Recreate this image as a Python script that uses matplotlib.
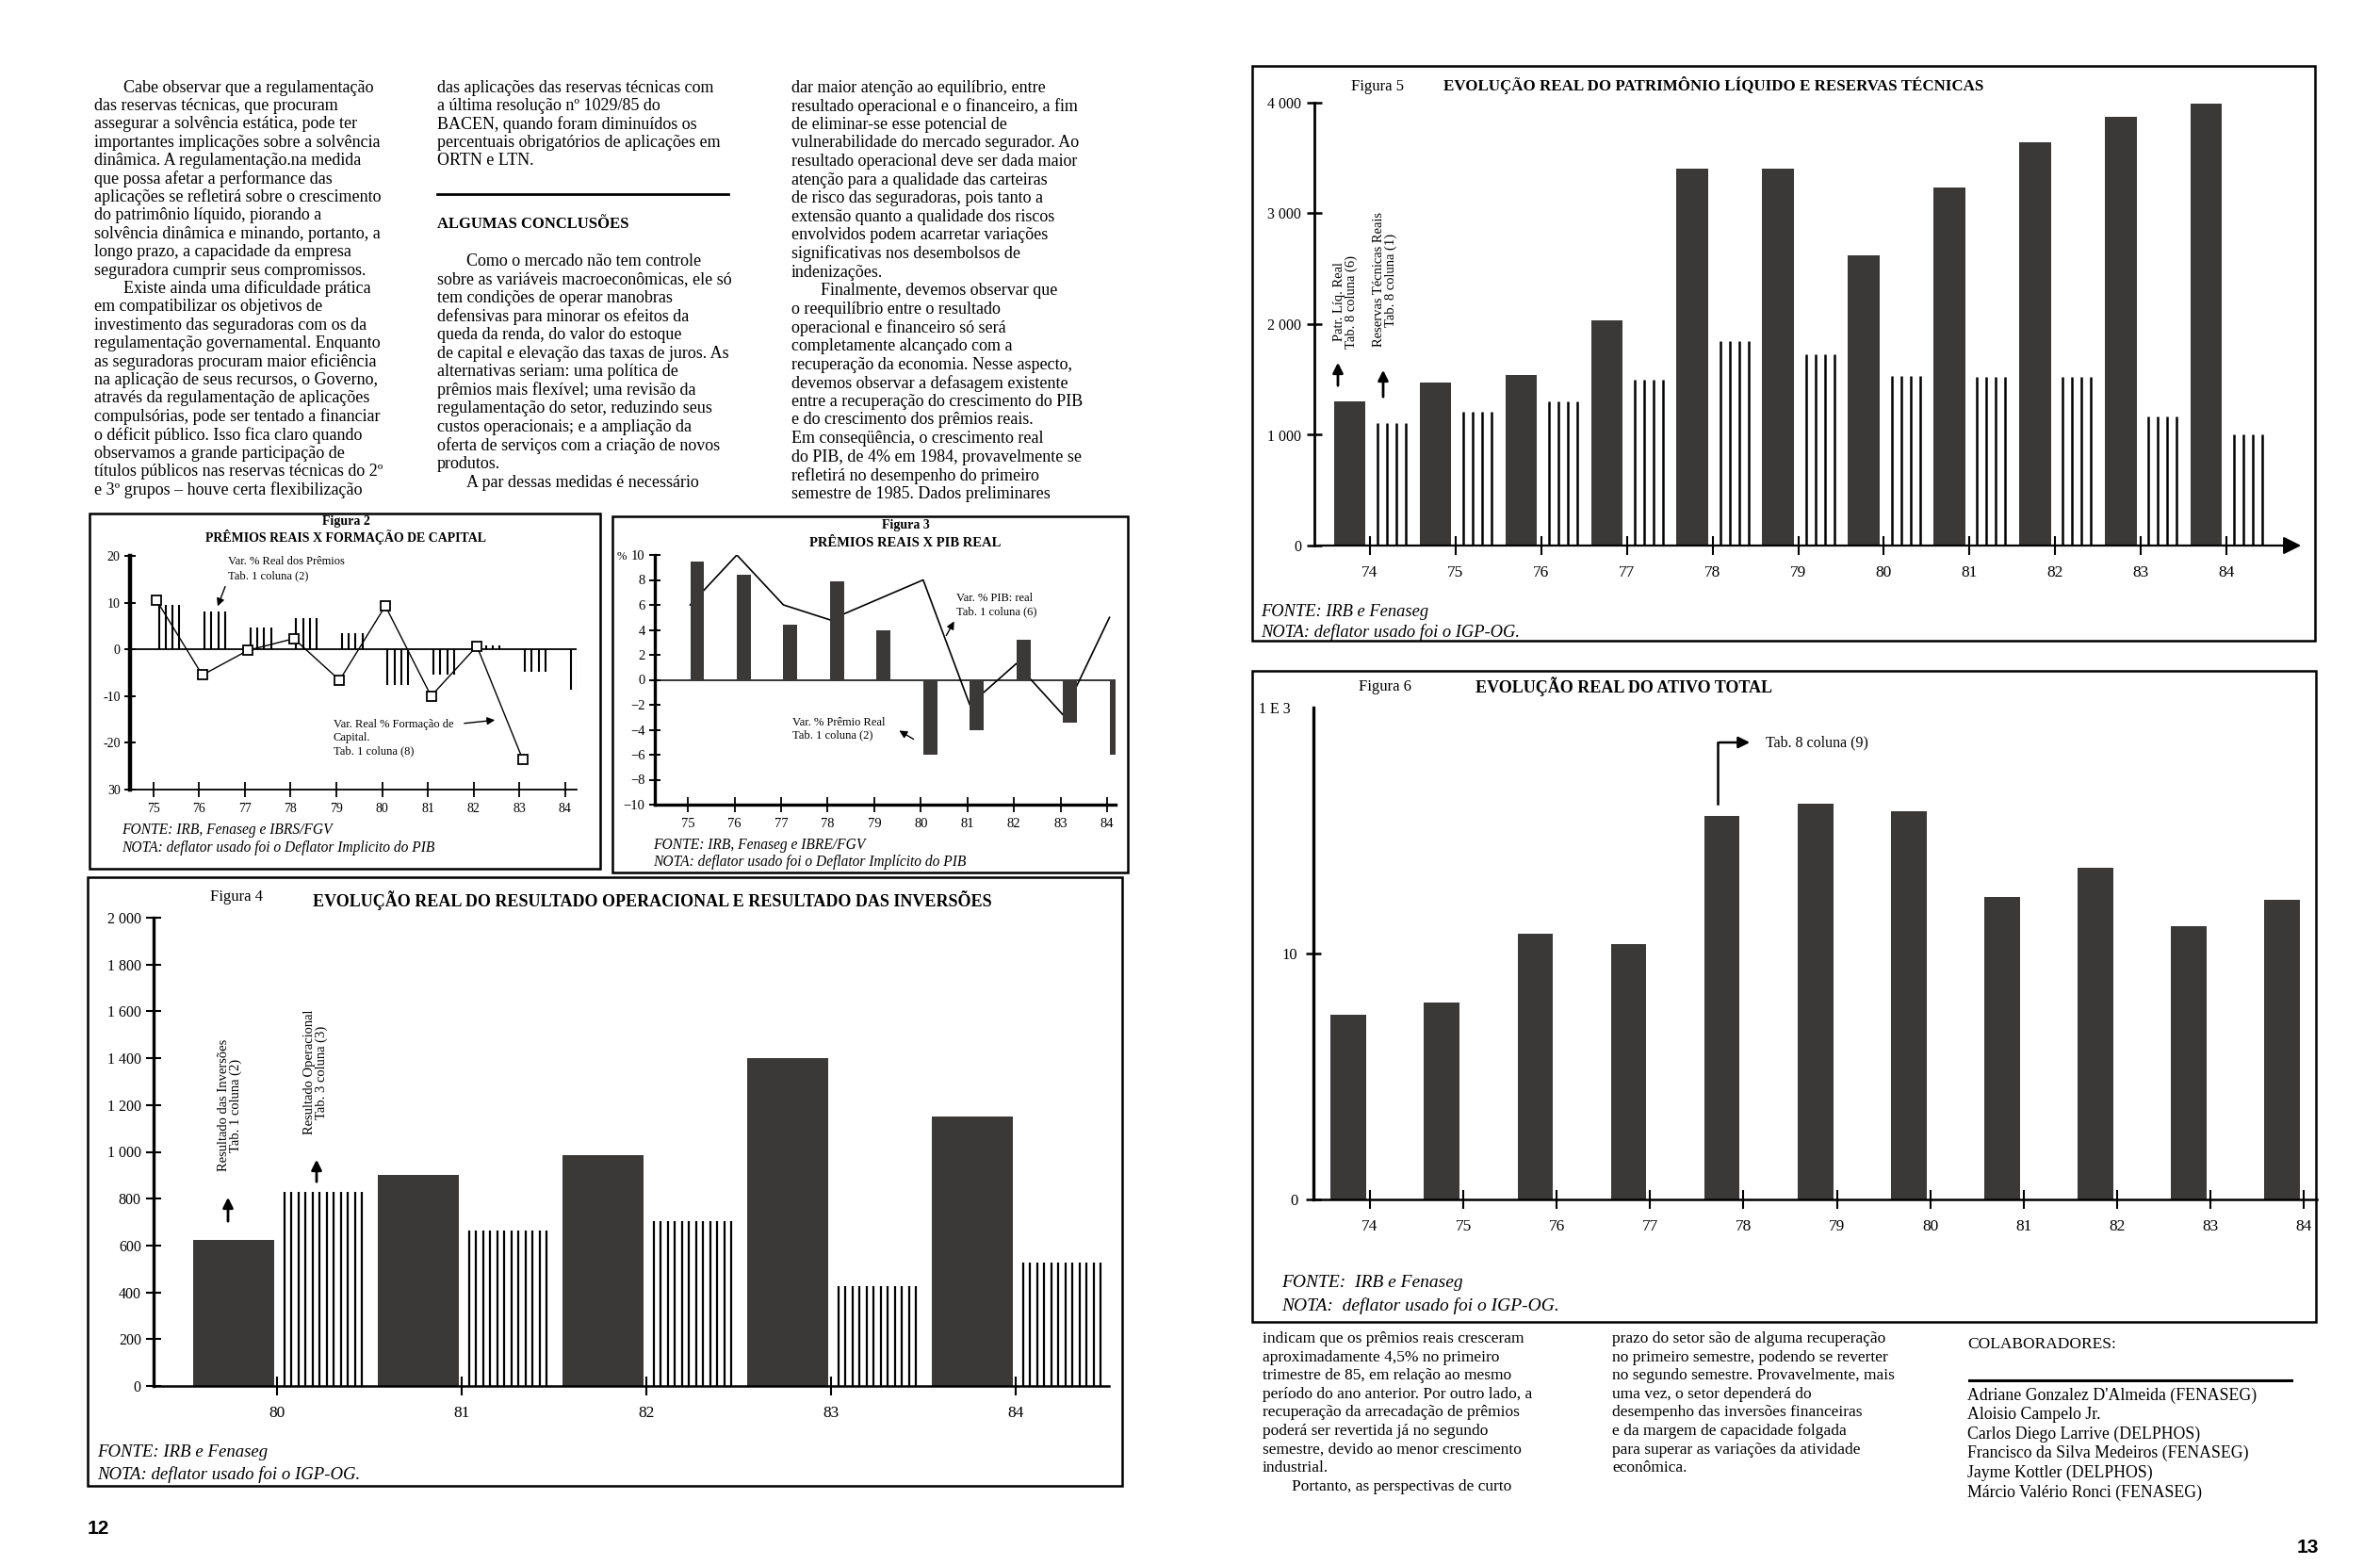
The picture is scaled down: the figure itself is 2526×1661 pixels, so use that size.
import numpy as np
import matplotlib
matplotlib.use("Agg")
import matplotlib.pyplot as plt
from matplotlib.patches import Rectangle
from matplotlib.lines import Line2D

W, H = 2526, 1661
ESCURO = '#3b3838'

# ---------------- dados das figuras ----------------
anos_f2 = [75, 76, 77, 78, 79, 80, 81, 82, 83, 84]
premios_f2 = [9.5, 8.2, 4.6, 6.6, 3.5, -7.7, -5.4, 0.8, -4.7, -8.7]
anos_cap_f2 = [75, 76, 77, 78, 79, 80, 81, 82, 83]
capital_f2 = [10.5, -5.5, -0.2, 2.3, -6.6, 9.3, -10.0, 0.7, -23.5]

anos_f3 = [75, 76, 77, 78, 79, 80, 81, 82, 83, 84]
premios_f3 = [9.5, 8.4, 4.4, 7.9, 4.0, -6.0, -4.0, 3.2, -3.4, -6.0]
pib_f3 = [6.0, 10.0, 6.0, 4.8, 6.4, 8.0, -2.0, 1.3, -2.8, 5.0]

anos_f4 = [80, 81, 82, 83, 84]
inversoes_f4 = [625, 900, 985, 1400, 1150]
operacional_f4 = [830, 665, 705, 425, 528]

anos_f5 = [74, 75, 76, 77, 78, 79, 80, 81, 82, 83, 84]
patrimonio_f5 = [1300, 1470, 1540, 2030, 3400, 3400, 2620, 3230, 3640, 3870, 3990]
reservas_f5 = [1110, 1210, 1300, 1500, 1850, 1730, 1530, 1525, 1525, 1170, 1000]

anos_f6 = [74, 75, 76, 77, 78, 79, 80, 81, 82, 83, 84]
ativo_f6 = [7.5, 8.0, 10.8, 10.4, 15.6, 16.1, 15.8, 12.3, 13.5, 11.1, 12.2]

# ---------------- textos ----------------
col1 = ["Cabe observar que a regulamentação",
        "das reservas técnicas, que procuram",
        "assegurar a solvência estática, pode ter",
        "importantes implicações sobre a solvência",
        "dinâmica. A regulamentação.na medida",
        "que possa afetar a performance das",
        "aplicações se refletirá sobre o crescimento",
        "do patrimônio líquido, piorando a",
        "solvência dinâmica e minando, portanto, a",
        "longo prazo, a capacidade da empresa",
        "seguradora cumprir seus compromissos.",
        "Existe ainda uma dificuldade prática",
        "em compatibilizar os objetivos de",
        "investimento das seguradoras com os da",
        "regulamentação governamental. Enquanto",
        "as seguradoras procuram maior eficiência",
        "na aplicação de seus recursos, o Governo,",
        "através da regulamentação de aplicações",
        "compulsórias, pode ser tentado a financiar",
        "o déficit público. Isso fica claro quando",
        "observamos a grande participação de",
        "títulos públicos nas reservas técnicas do 2º",
        "e 3º grupos – houve certa flexibilização"]
col2a = ["das aplicações das reservas técnicas com",
         "a última resolução nº 1029/85 do",
         "BACEN, quando foram diminuídos os",
         "percentuais obrigatórios de aplicações em",
         "ORTN e LTN."]
col2b = ["Como o mercado não tem controle",
         "sobre as variáveis macroeconômicas, ele só",
         "tem condições de operar manobras",
         "defensivas para minorar os efeitos da",
         "queda da renda, do valor do estoque",
         "de capital e elevação das taxas de juros. As",
         "alternativas seriam: uma política de",
         "prêmios mais flexível; uma revisão da",
         "regulamentação do setor, reduzindo seus",
         "custos operacionais; e a ampliação da",
         "oferta de serviços com a criação de novos",
         "produtos.",
         "A par dessas medidas é necessário"]
col3 = ["dar maior atenção ao equilíbrio, entre",
        "resultado operacional e o financeiro, a fim",
        "de eliminar-se esse potencial de",
        "vulnerabilidade do mercado segurador. Ao",
        "resultado operacional deve ser dada maior",
        "atenção para a qualidade das carteiras",
        "de risco das seguradoras, pois tanto a",
        "extensão quanto a qualidade dos riscos",
        "envolvidos podem acarretar variações",
        "significativas nos desembolsos de",
        "indenizações.",
        "Finalmente, devemos observar que",
        "o reequilíbrio entre o resultado",
        "operacional e financeiro só será",
        "completamente alcançado com a",
        "recuperação da economia. Nesse aspecto,",
        "devemos observar a defasagem existente",
        "entre a recuperação do crescimento do PIB",
        "e do crescimento dos prêmios reais.",
        "Em conseqüência, o crescimento real",
        "do PIB, de 4% em 1984, provavelmente se",
        "refletirá no desempenho do primeiro",
        "semestre de 1985. Dados preliminares"]
col4 = ["indicam que os prêmios reais cresceram",
        "aproximadamente 4,5% no primeiro",
        "trimestre de 85, em relação ao mesmo",
        "período do ano anterior. Por outro lado, a",
        "recuperação da arrecadação de prêmios",
        "poderá ser revertida já no segundo",
        "semestre, devido ao menor crescimento",
        "industrial.",
        "Portanto, as perspectivas de curto"]
col5 = ["prazo do setor são de alguma recuperação",
        "no primeiro semestre, podendo se reverter",
        "no segundo semestre. Provavelmente, mais",
        "uma vez, o setor dependerá do",
        "desempenho das inversões financeiras",
        "e da margem de capacidade folgada",
        "para superar as variações da atividade",
        "econômica."]
colaboradores = ["Adriane Gonzalez D'Almeida (FENASEG)",
                 "Aloisio Campelo Jr.",
                 "Carlos Diego Larrive (DELPHOS)",
                 "Francisco da Silva Medeiros (FENASEG)",
                 "Jayme Kottler (DELPHOS)",
                 "Márcio Valério Ronci (FENASEG)"]

plt.rcParams['font.family'] = ['Liberation Serif', 'DejaVu Serif']
fig = plt.figure(figsize=(W / 100, H / 100), dpi=100)
fig.patch.set_facecolor('white')


def fx(x):
    return x / W


def fy(y):
    return 1 - y / H


def texto(x, y, s, **kw):
    kw.setdefault('va', 'center')
    fig.text(fx(x), fy(y), s, **kw)


def linhas(lst, x, y0, passo, recuo=(), dx=31, **kw):
    for i, s in enumerate(lst):
        texto(x + (dx if i in recuo else 0), y0 + i * passo, s, **kw)


def caixa(x0, y0, x1, y1, lw=1.8):
    fig.add_artist(Rectangle((fx(x0), fy(y1)), (x1 - x0) / W, (y1 - y0) / H,
                             transform=fig.transFigure, fill=False, lw=lw, ec='k'))


def traco(x0, x1, y, lw=1.8):
    fig.add_artist(Line2D([fx(x0), fx(x1)], [fy(y), fy(y)],
                          transform=fig.transFigure, color='k', lw=lw))


def seta(x0, y0, x1, y1, lw=1.0, ms=12):
    fig.add_artist(matplotlib.patches.FancyArrowPatch(
        (fx(x0), fy(y0)), (fx(x1), fy(y1)), transform=fig.transFigure,
        arrowstyle='-|>', mutation_scale=ms, lw=lw, color='k'))


def eixos(x0, x1, y_top, y_bot, xlim, ylim):
    ax = fig.add_axes([fx(x0), fy(y_bot), (x1 - x0) / W, (y_bot - y_top) / H])
    ax.set_xlim(*xlim)
    ax.set_ylim(*ylim)
    ax.patch.set_visible(False)
    ax.spines['top'].set_visible(False)
    ax.spines['right'].set_visible(False)
    return ax


def rotulos_y(vals):
    return [str(v) if v >= 0 else '−' + str(abs(v)) for v in vals]


# ---------------- texto corrido ----------------
corpo = dict(fontsize=13)
linhas(col1, 100, 93, 19.4, recuo=(0, 11), **corpo)
linhas(col2a, 464, 93, 19.4, **corpo)
traco(464, 773, 206, lw=2.0)
texto(464, 238, "ALGUMAS CONCLUSÕES", fontsize=12, fontweight='bold')
linhas(col2b, 464, 277, 19.6, recuo=(0, 12), **corpo)
linhas(col3, 840, 93, 19.6, recuo=(11,), **corpo)

linhas(col4, 1340, 1421, 19.6, recuo=(8,), fontsize=12.5)
linhas(col5, 1711, 1421, 19.6, fontsize=12.5)
texto(2088, 1427, "COLABORADORES:", fontsize=12.5)
traco(2090, 2432, 1465, lw=2.2)
linhas(colaboradores, 2088, 1481, 20.6, fontsize=12.8)

texto(93, 1622, "12", fontsize=15, fontweight='bold', family='Liberation Sans')
texto(2438, 1643, "13", fontsize=15, fontweight='bold', family='Liberation Sans')

# ---------------- Figura 2 ----------------
caixa(95, 545, 637, 922)
texto(367, 553, "Figura 2", fontsize=10, fontweight='bold', ha='center')
texto(367, 570, "PRÊMIOS REAIS X FORMAÇÃO DE CAPITAL", fontsize=10,
      fontweight='bold', ha='center')
ax2 = eixos(138, 612, 590, 838, (74.49, 84.25), (-30, 20))
ax2.spines['left'].set_linewidth(3.2)
ax2.spines['bottom'].set_linewidth(1.3)
ax2.axhline(0, color='k', lw=1.3)
desl = np.array([0.12, 0.27, 0.42, 0.57])
xs2 = (np.array(anos_f2)[:, None] + desl).ravel()
ax2.vlines(xs2, 0, np.repeat(premios_f2, len(desl)), color='k', lw=1.5)
ax2.plot(np.array(anos_cap_f2) + 0.07, capital_f2, color='k', lw=1.0,
         marker='s', ms=7, mfc='white', mec='k', mew=1.3, zorder=4, clip_on=False)
ax2.set_yticks([20, 10, 0, -10, -20, -30])
ax2.set_yticklabels(['20', '10', '0', '-10', '-20', '30'])
ax2.set_xticks(anos_f2)
ax2.set_xticklabels([str(a) for a in anos_f2])
ax2.tick_params(axis='y', direction='inout', length=9, width=1.4, labelsize=10, pad=3)
ax2.tick_params(axis='x', direction='inout', length=12, width=1.3, labelsize=10, pad=4)
texto(242, 596, "Var. % Real dos Prêmios", fontsize=9)
texto(242, 611, "Tab. 1 coluna (2)", fontsize=9)
seta(240, 620, 230, 646)
texto(354, 769, "Var. Real % Formação de", fontsize=9)
texto(354, 783, "Capital.", fontsize=9)
texto(354, 797, "Tab. 1 coluna (8)", fontsize=9)
seta(490, 768, 528, 764)
texto(129, 881, "FONTE: IRB, Fenaseg e IBRS/FGV", fontsize=11.2, style='italic')
texto(129, 900, "NOTA: deflator usado foi o Deflator Implicito do PIB", fontsize=11.2,
      style='italic')

# ---------------- Figura 3 ----------------
caixa(650, 548, 1197, 926)
texto(961, 558, "Figura 3", fontsize=10, fontweight='bold', ha='center')
texto(961, 576, "PRÊMIOS REAIS X PIB REAL", fontsize=10.5, fontweight='bold', ha='center')
ax3 = eixos(695, 1184, 589, 854, (74.29, 84.18), (-10, 10))
ax3.spines['left'].set_linewidth(2.4)
ax3.spines['bottom'].set_linewidth(2.4)
ax3.axhline(0, color='k', lw=1.1)
ax3.plot(np.array(anos_f3) + 0.05, pib_f3, color='k', lw=1.2, zorder=2)
ax3.bar(np.array(anos_f3) + 0.2, premios_f3, width=0.3, color=ESCURO, zorder=3)
yv3 = list(range(10, -11, -2))
ax3.set_yticks(yv3)
ax3.set_yticklabels(rotulos_y(yv3))
ax3.set_xticks(anos_f3)
ax3.set_xticklabels([str(a) for a in anos_f3])
ax3.tick_params(axis='y', direction='inout', length=9, width=1.4, labelsize=10.5, pad=3)
ax3.tick_params(axis='x', direction='inout', length=12, width=1.3, labelsize=10.5, pad=4)
texto(655, 591, "%", fontsize=9)
texto(1015, 635, "Var. % PIB: real", fontsize=9)
texto(1015, 649, "Tab. 1 coluna (6)", fontsize=9)
seta(1003, 677, 1014, 657)
texto(841, 767, "Var. % Prêmio Real", fontsize=9)
texto(841, 780, "Tab. 1 coluna (2)", fontsize=9)
seta(972, 786, 952, 774)
texto(693, 897, "FONTE: IRB, Fenaseg e IBRE/FGV", fontsize=11.2, style='italic')
texto(693, 915, "NOTA: deflator usado foi o Deflator Implícito do PIB", fontsize=11.2,
      style='italic')

# ---------------- Figura 4 ----------------
caixa(93, 931, 1191, 1577)
texto(251, 952, "Figura 4", fontsize=12, ha='center')
texto(692, 956, "EVOLUÇÃO REAL DO RESULTADO OPERACIONAL E RESULTADO DAS INVERSÕES",
      fontsize=13, fontweight='bold', ha='center')
ax4 = eixos(163, 1177, 974, 1471, (79.332, 84.505), (0, 2000))
ax4.spines['left'].set_linewidth(2.4)
ax4.spines['bottom'].set_linewidth(1.8)
ax4.bar(np.array(anos_f4) - 0.235, inversoes_f4, width=0.44, color=ESCURO, zorder=2)
desl4 = np.linspace(0.04, 0.46, 12)
xs4 = (np.array(anos_f4)[:, None] + desl4).ravel()
ax4.vlines(xs4, 0, np.repeat(operacional_f4, len(desl4)), color='k', lw=1.6)
yv4 = list(range(0, 2001, 200))
ax4.set_yticks(yv4)
ax4.set_yticklabels(['{:,}'.format(v).replace(',', ' ') for v in yv4])
ax4.set_xticks(anos_f4)
ax4.set_xticklabels([str(a) for a in anos_f4])
ax4.tick_params(axis='y', direction='inout', length=11, width=1.5, labelsize=11.5, pad=4)
ax4.tick_params(axis='x', direction='inout', length=14, width=1.5, labelsize=12.5, pad=8)
texto(244, 1173, "Resultado das Inversões\nTab. 1 coluna (2)", fontsize=10.5,
      rotation=90, ha='center', linespacing=1.0)
texto(335, 1138, "Resultado Operacional\nTab. 3 coluna (3)", fontsize=10.5,
      rotation=90, ha='center', linespacing=1.0)
seta(242, 1299, 242, 1268, lw=2, ms=16)
seta(336, 1257, 336, 1228, lw=2, ms=16)
texto(103, 1542, "FONTE: IRB e Fenaseg", fontsize=13.5, style='italic')
texto(103, 1565, "NOTA: deflator usado foi o IGP-OG.", fontsize=13.5, style='italic')

# ---------------- Figura 5 ----------------
caixa(1329, 70, 2457, 680)
texto(1462, 92, "Figura 5", fontsize=12, ha='center')
texto(1819, 91, "EVOLUÇÃO REAL DO PATRIMÔNIO LÍQUIDO E RESERVAS TÉCNICAS",
      fontsize=12.2, fontweight='bold', ha='center')
ax5 = eixos(1395, 2445, 109, 579, (73.351, 84.902), (0, 4000))
ax5.spines['left'].set_linewidth(2.0)
ax5.spines['bottom'].set_visible(False)
ax5.annotate('', xy=(84.902, 0), xytext=(73.351, 0), xycoords='data',
             arrowprops=dict(arrowstyle='-|>', color='k', lw=1.6, mutation_scale=28),
             annotation_clip=False)
ax5.bar(np.array(anos_f5) - 0.235, patrimonio_f5, width=0.37, color=ESCURO, zorder=2)
desl5 = np.array([0.09, 0.2, 0.31, 0.42])
xs5 = (np.array(anos_f5)[:, None] + desl5).ravel()
ax5.vlines(xs5, 0, np.repeat(reservas_f5, len(desl5)), color='k', lw=1.8)
yv5 = [0, 1000, 2000, 3000, 4000]
ax5.set_yticks(yv5)
ax5.set_yticklabels(['{:,}'.format(v).replace(',', ' ') for v in yv5])
ax5.set_xticks(anos_f5)
ax5.set_xticklabels([str(a) for a in anos_f5])
ax5.tick_params(axis='y', direction='inout', length=12, width=1.8, labelsize=11.5, pad=4)
ax5.tick_params(axis='x', direction='inout', length=14, width=1.5, labelsize=12.5, pad=8)
texto(1428, 320, "Patr. Líq. Real\nTab. 8 coluna (6)", fontsize=10.5,
      rotation=90, ha='center', linespacing=1.0)
texto(1470, 297, "Reservas Técnicas Reais\nTab. 8 coluna (1)", fontsize=10.5,
      rotation=90, ha='center', linespacing=1.0)
seta(1420, 412, 1420, 382, lw=2, ms=16)
seta(1468, 424, 1468, 390, lw=2, ms=16)
texto(1338, 649, "FONTE: IRB e Fenaseg", fontsize=13.3, style='italic')
texto(1338, 671, "NOTA: deflator usado foi o IGP-OG.", fontsize=13.3, style='italic')

# ---------------- Figura 6 ----------------
caixa(1329, 712, 2458, 1403)
texto(1470, 729, "Figura 6", fontsize=12, ha='center')
texto(1723, 729, "EVOLUÇÃO REAL DO ATIVO TOTAL", fontsize=13, fontweight='bold',
      ha='center')
texto(1336, 753, "1 E 3", fontsize=11.5)
ax6 = eixos(1394, 2459, 751, 1273, (73.395, 84.14), (0, 20))
ax6.spines['left'].set_linewidth(2.4)
ax6.spines['bottom'].set_linewidth(1.8)
ax6.bar(np.array(anos_f6) - 0.23, ativo_f6, width=0.38, color=ESCURO, zorder=2)
ax6.set_yticks([0, 10])
ax6.set_yticklabels(['0', '10'])
ax6.set_xticks(anos_f6)
ax6.set_xticklabels([str(a) for a in anos_f6])
ax6.tick_params(axis='y', direction='inout', length=12, width=1.8, labelsize=12, pad=6)
ax6.tick_params(axis='x', direction='inout', length=14, width=1.5, labelsize=12.5, pad=8)
fig.add_artist(Line2D([fx(1823), fx(1823)], [fy(853), fy(788)],
                      transform=fig.transFigure, color='k', lw=1.8))
seta(1822, 788, 1860, 788, lw=1.8, ms=18)
texto(1874, 788, "Tab. 8 coluna (9)", fontsize=11.5)
texto(1360, 1361, "FONTE:  IRB e Fenaseg", fontsize=14, style='italic')
texto(1360, 1386, "NOTA:  deflator usado foi o IGP-OG.", fontsize=14, style='italic')

fig.savefig('out.png', dpi=100, facecolor='white')
